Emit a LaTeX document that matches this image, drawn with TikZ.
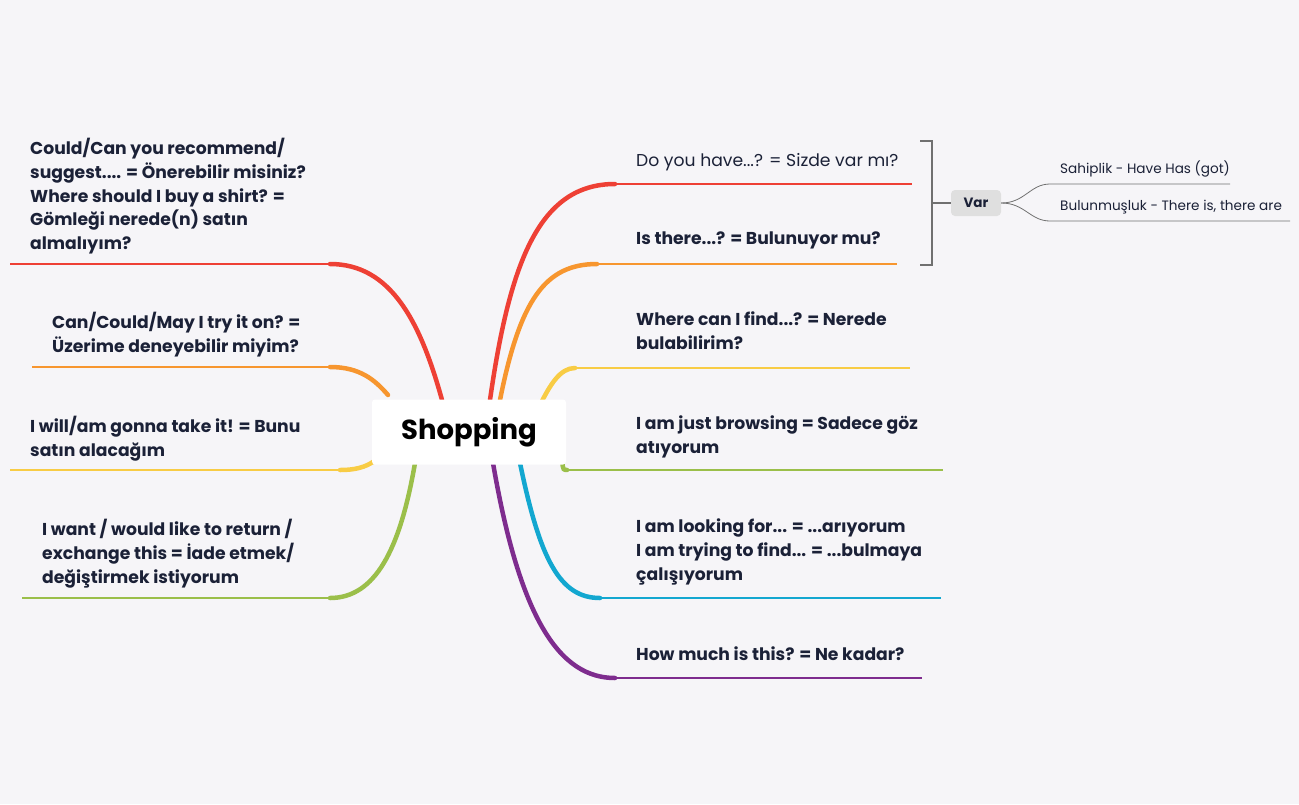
\documentclass[tikz,border=0pt]{standalone}
\usepackage{fontspec}
\setmainfont{Poppins}
\definecolor{bg}{HTML}{F6F5F8}
\definecolor{cred}{HTML}{EE4035}
\definecolor{corange}{HTML}{F7962F}
\definecolor{cyellow}{HTML}{F8CC45}
\definecolor{cgreen}{HTML}{9BBF4A}
\definecolor{ccyan}{HTML}{13A7D0}
\definecolor{cpurple}{HTML}{7E2C8E}
\definecolor{txt}{HTML}{1B2137}
\definecolor{gr}{HTML}{707070}
\begin{document}
\begin{tikzpicture}[x=1pt,y=-1pt,
  lbl/.style={anchor=north west,inner sep=0pt,align=left,text=txt,font=\fontsize{17.2}{23.8}\selectfont\bfseries},
  lblr/.style={lbl,font=\fontsize{17.2}{23.8}\selectfont},
  br/.style={line width=4.5pt,line cap=round},
  ul/.style={line width=1.4pt}]
\fill[bg] (0,0) rectangle (1299,804);
\useasboundingbox (0,0) rectangle (1299,804);
% right branches
\coordinate (r1) at (615,184); \coordinate (r1e) at (912,184);
\coordinate (r2) at (597,264); \coordinate (r2e) at (897,264);
\coordinate (r3) at (575,368); \coordinate (r3e) at (910,368);
\coordinate (r4) at (567,470); \coordinate (r4e) at (943,470);
\coordinate (r5) at (600,598); \coordinate (r5e) at (941,598);
\coordinate (r6) at (615,678); \coordinate (r6e) at (922,678);
\draw[br,cred] (490,400) .. controls (510,260) and (540,184) .. (r1);
\draw[ul,cred] (r1) -- (r1e);
\draw[br,corange] (500,400) .. controls (520,300) and (545,264) .. (r2);
\draw[ul,corange] (r2) -- (r2e);
\draw[br,cyellow] (540,405) .. controls (550,385) and (560,368) .. (r3);
\draw[ul,cyellow] (r3) -- (r3e);
\draw[br,cgreen] (560,455) .. controls (565,465) and (560,470) .. (r4);
\draw[ul,cgreen] (r4) -- (r4e);
\draw[br,ccyan] (520,463) .. controls (540,560) and (560,598) .. (r5);
\draw[ul,ccyan] (r5) -- (r5e);
\draw[br,cpurple] (493,463) .. controls (520,620) and (560,678) .. (r6);
\draw[ul,cpurple] (r6) -- (r6e);
% left branches
\coordinate (l1) at (330,264); \coordinate (l1e) at (10,264);
\coordinate (l2) at (330,367); \coordinate (l2e) at (32,367);
\coordinate (l3) at (340,470); \coordinate (l3e) at (10,470);
\coordinate (l4) at (330,598); \coordinate (l4e) at (22,598);
\draw[br,cred] (442,400) .. controls (420,320) and (390,264) .. (l1);
\draw[ul,cred] (l1) -- (l1e);
\draw[br,corange] (388,395) .. controls (375,380) and (360,367) .. (l2);
\draw[ul,corange] (l2) -- (l2e);
\draw[br,cyellow] (378,458) .. controls (370,465) and (360,470) .. (l3);
\draw[ul,cyellow] (l3) -- (l3e);
\draw[br,cgreen] (415,463) .. controls (400,550) and (375,598) .. (l4);
\draw[ul,cgreen] (l4) -- (l4e);
% center
\node[fill=white,rounded corners=3pt,minimum width=194pt,minimum height=65pt,font=\fontsize{27.5}{30}\selectfont\bfseries,text=black] (c) at (469,432) {Shopping};
% right labels
\node[lblr] (t1) at (636,153) {Do you have...? = Sizde var mı?};
\node[lbl] (t2) at (636,232) {Is there...? = Bulunuyor mu?};
\node[lbl] (t3) at (636,312) {Where can I find...? = Nerede\\bulabilirim?};
\node[lbl] (t4) at (636,416) {I am just browsing = Sadece göz\\atıyorum};
\node[lbl] (t5) at (636,519) {I am looking for... = ...arıyorum\\I am trying to find... = ...bulmaya\\çalışıyorum};
\node[lbl] (t6) at (636,647) {How much is this? = Ne kadar?};
% left labels
\node[lbl] (u1) at (30,138) {Could/Can you recommend/\\suggest.... = Önerebilir misiniz?\\Where should I buy a shirt? =\\Gömleği nerede(n) satın\\almalıyım?};
\node[lbl] (u2) at (52,312) {Can/Could/May I try it on? =\\Üzerime deneyebilir miyim?};
\node[lbl] (u3) at (30,416) {I will/am gonna take it! = Bunu\\satın alacağım};
\node[lbl] (u4) at (42,519) {I want / would like to return /\\exchange this = İade etmek/\\değiştirmek istiyorum};
% bracket
\draw[gr,line width=1.2pt] (920,141) -- (932,141) -- (932,265) -- (920,265);
\node[fill=gray!25,rounded corners=4pt,minimum width=50pt,minimum height=26pt,inner sep=0pt,font=\fontsize{13.5}{15}\selectfont\bfseries,text=txt] (var) at (976,203) {Var};
\draw[gr,line width=1.2pt] (932,203) -- (var.west);
\coordinate (s1) at (1050,184); \coordinate (s1e) at (1230,184);
\coordinate (s2) at (1050,221); \coordinate (s2e) at (1290,221);
\draw[gr,line width=0.8pt] (var.east) .. controls (1025,203) and (1030,184) .. (s1) -- (s1e);
\draw[gr,line width=0.8pt] (var.east) .. controls (1025,203) and (1030,221) .. (s2) -- (s2e);
\node[lblr,font=\fontsize{13.6}{16}\selectfont] (v1) at (1060,161) {Sahiplik - Have Has (got)};
\node[lblr,font=\fontsize{13.6}{16}\selectfont] (v2) at (1060,200) {Bulunmuşluk - There is, there are};
\end{tikzpicture}
\end{document}
